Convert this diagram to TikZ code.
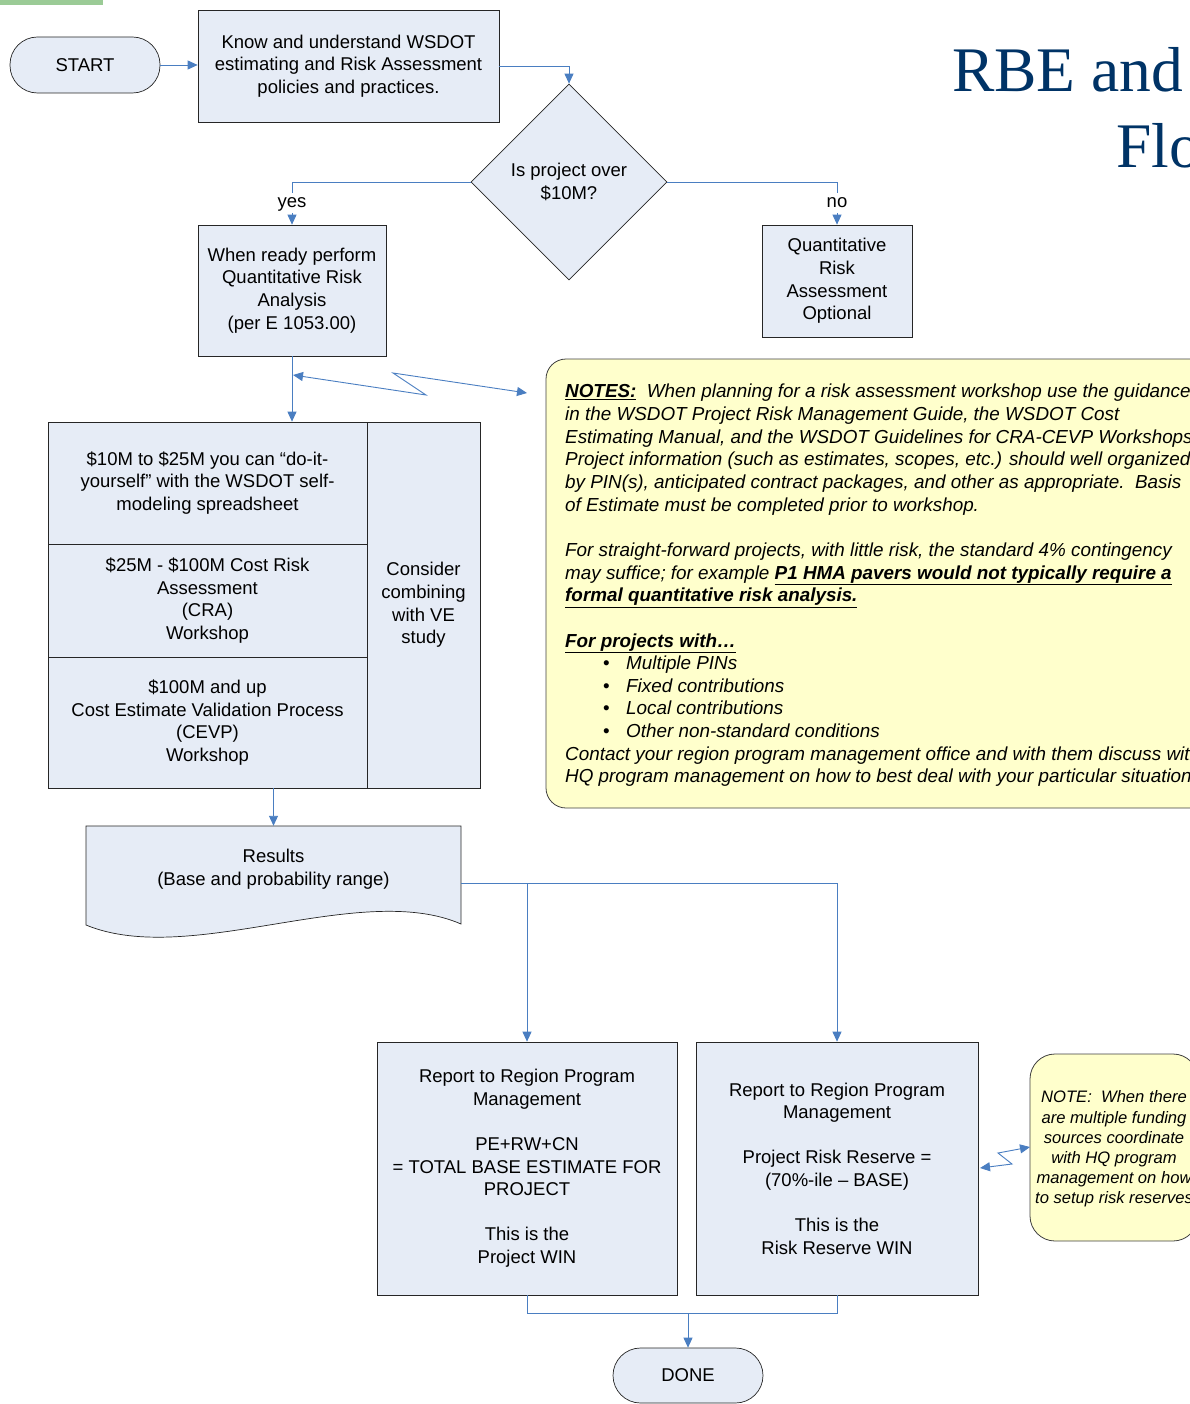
\documentclass[tikz,border=0pt]{standalone}
\usepackage{fontspec}
\setmainfont{Liberation Sans}
\newfontfamily\titlefont{Liberation Serif}
\usetikzlibrary{arrows.meta,shapes.geometric}
\definecolor{boxfill}{RGB}{230,236,246}
\definecolor{connblue}{RGB}{74,126,193}
\definecolor{notefill}{RGB}{255,255,204}
\definecolor{titleblue}{RGB}{0,51,102}
\definecolor{greenbar}{RGB}{155,203,150}
\newcommand{\mainfs}{\fontsize{18.5}{22.6}\selectfont}
\newcommand{\notefs}{\fontsize{18.85}{22.65}\selectfont}
\newcommand{\smallfs}{\fontsize{16.6}{20.2}\selectfont}
\begin{document}
\begin{tikzpicture}[x=1pt,y=-1pt,
  box/.style={draw=black!85, line width=0.7pt, fill=boxfill, align=center, inner sep=0pt, font=\mainfs},
  term/.style={box, rounded corners=27.5pt},
  link/.style={draw=connblue, line width=0.9pt},
  arr/.style={link, -{Triangle[length=10pt,width=9pt]}},
  darr/.style={link, {Triangle[length=10pt,width=9pt]}-{Triangle[length=10pt,width=9pt]}},
  notebox/.style={draw=black!75, line width=0.8pt, fill=notefill},
  lab/.style={fill=white, inner sep=1.5pt, font=\mainfs, text height=13pt, text depth=4pt}]
\useasboundingbox (0,0) rectangle (1190,1404);
\clip (0,0) rectangle (1190,1404);

% green bar
\fill[greenbar] (0,0) rectangle (103,5);

% title
\node[anchor=base west, inner sep=0, text=titleblue, font=\titlefont\fontsize{63.5}{70}\selectfont] (t1title) at (952,92) {RBE and};
\node[anchor=base west, inner sep=0, text=titleblue, font=\titlefont\fontsize{63.5}{70}\selectfont] (t2title) at (1116,168) {Flo};

% top row
\node[term, minimum width=150pt, minimum height=56pt] (start) at (85,65) {START};
\node[box, minimum width=301pt, minimum height=112pt] (know) at (348.5,66) {Know and understand WSDOT\\estimating and Risk Assessment\\policies and practices.};
\node[diamond, aspect=1, draw=black!85, line width=0.7pt, fill=boxfill, minimum width=196pt, minimum height=196pt, inner sep=0pt, align=center, font=\mainfs] (dec) at (569,182) {Is project over\\\$10M?};

\node[box, minimum width=188pt, minimum height=131pt] (yesbox) at (292,290.5) {When ready perform\\Quantitative Risk\\Analysis\\(per E 1053.00)};
\node[box, minimum width=150pt, minimum height=112pt] (nobox) at (837,281) {Quantitative\\Risk\\Assessment\\Optional};

% table
\node[box, minimum width=319pt, minimum height=122pt] (row1) at (207.5,483) {\$10M to \$25M you can “do-it-\\yourself” with the WSDOT self-\\modeling spreadsheet};
\node[box, minimum width=319pt, minimum height=113pt] (row2) at (207.5,600.5) {\$25M - \$100M Cost Risk\\Assessment\\(CRA)\\Workshop};
\node[box, minimum width=319pt, minimum height=131pt] (row3) at (207.5,722.5) {\$100M and up\\Cost Estimate Validation Process\\(CEVP)\\Workshop};
\node[box, minimum width=113pt, minimum height=366pt] (ve) at (423.5,605) {Consider\\combining\\with VE\\study};

% results document shape
\filldraw[draw=black!85, line width=0.7pt, fill=boxfill] (86,826) -- (461,826) -- (461,924)
  .. controls (360,880) and (190,968) .. (86,925) -- cycle;
\node[inner sep=0pt, minimum width=375pt, minimum height=114pt] (res) at (273.5,883) {};
\node[align=center, font=\mainfs, inner sep=0pt] (restext) at (273.5,869) {Results\\(Base and probability range)};

% report boxes
\node[box, minimum width=300pt, minimum height=253pt] (rep1) at (527,1168.5) {Report to Region Program\\Management\\[22.5pt]PE+RW+CN\\= TOTAL BASE ESTIMATE FOR\\PROJECT\\[22.5pt]This is the\\Project WIN};
\node[box, minimum width=282pt, minimum height=253pt] (rep2) at (837,1168.5) {Report to Region Program\\Management\\[22.6pt]Project Risk Reserve =\\(70\%-ile – BASE)\\[22.6pt]This is the\\Risk Reserve WIN};
\node[term, minimum width=150pt, minimum height=55pt] (done) at (688,1375.5) {DONE};

% notes
\node[notebox, rounded corners=20pt, minimum width=669pt, minimum height=449pt, inner sep=0pt] (notes) at (880.5,583.5) {};
\node[anchor=north west, inner sep=0pt, align=left, font=\notefs\itshape] (notestext) at (565,384) {%
\textbf{\underline{NOTES:}}\ \ When planning for a risk assessment workshop use the guidance\\
in the WSDOT Project Risk Management Guide, the WSDOT Cost\\
Estimating Manual, and the WSDOT Guidelines for CRA-CEVP Workshops.\\
Project information (such as estimates, scopes, etc.) should well organized\\
by PIN(s), anticipated contract packages, and other as appropriate.\ \ Basis\\
of Estimate must be completed prior to workshop.\\[22.65pt]
For straight-forward projects, with little risk, the standard 4\% contingency\\
may suffice; for example \textbf{\underline{P1 HMA pavers would not typically require a}}\\
\textbf{\underline{formal quantitative risk analysis.}}\\[22.65pt]
\textbf{\underline{For projects with…}}\\
\hspace*{38pt}\makebox[23pt][l]{\upshape\textbullet}Multiple PINs\\
\hspace*{38pt}\makebox[23pt][l]{\upshape\textbullet}Fixed contributions\\
\hspace*{38pt}\makebox[23pt][l]{\upshape\textbullet}Local contributions\\
\hspace*{38pt}\makebox[23pt][l]{\upshape\textbullet}Other non-standard conditions\\
Contact your region program management office and with them discuss with\\
HQ program management on how to best deal with your particular situation.};

\node[notebox, rounded corners=25pt, minimum width=168pt, minimum height=187pt, inner sep=0pt] (snote) at (1114,1147.5) {};
\node[align=center, inner sep=0pt, font=\smallfs\itshape] (snotetext) at (1114,1149) {NOTE:\ \ When there\\are multiple funding\\sources coordinate\\with HQ program\\management on how\\to setup risk reserves};

% connectors
\draw[arr] (start.east) -- (know.west |- start.east);
\draw[arr] (know.east) -| (dec.north);
\draw[arr] (dec.west) -| node[lab, pos=0.75] {yes} (yesbox.north);
\draw[arr] (dec.east) -| node[lab, pos=0.75] {no} (nobox.north);
\draw[arr] (yesbox.south) -- (yesbox.south |- row1.north);
\coordinate (lzA) at (293,375);
\coordinate (lzB) at (527,393);
\draw[darr] (lzA) -- (426,395) -- (393,373) -- (lzB);
\draw[arr] (res.north |- row3.south) -- (res.north);
\draw[arr] (res.east) -| (rep2.north);
\draw[arr] (res.east -| rep1.north) -- (rep1.north);
\coordinate (bj) at (688,1313);
\draw[link] (rep1.south) |- (bj) -| (rep2.south);
\draw[arr] (bj) -- (done.north);
\coordinate (lzC) at (980,1168);
\coordinate (lzD) at (1030,1147);
\draw[darr] (lzC) -- (1012,1164) -- (998,1153) -- (lzD);
\end{tikzpicture}
\end{document}
